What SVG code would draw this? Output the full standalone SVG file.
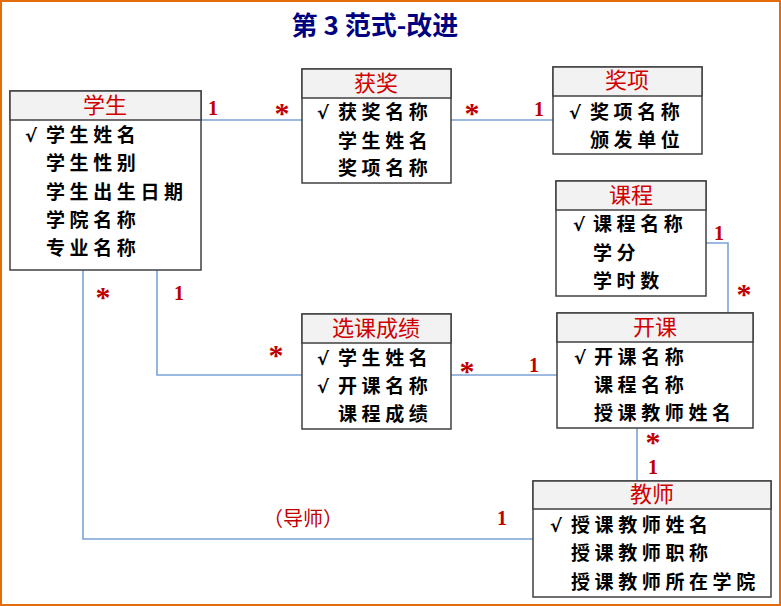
<svg xmlns="http://www.w3.org/2000/svg" width="781" height="606" viewBox="0 0 781 606">
<style>
.frame{fill:#fff;stroke:#E46C0A;stroke-width:2}
.box{fill:#fff;stroke:#404040;stroke-width:1.5}
.hdr{fill:#F2F2F2;stroke:#404040;stroke-width:1.5}
.ht{font-family:"Noto Sans CJK SC",sans-serif;font-size:22px;fill:#D00000;text-anchor:middle}
.at{font-family:"Noto Sans CJK SC",sans-serif;font-size:19px;font-weight:bold;fill:#000;letter-spacing:4.6px}
.ck{font-family:"DejaVu Sans",sans-serif;font-size:18px;font-weight:bold;fill:#000}
.con{fill:none;stroke:#7BA3D6;stroke-width:1.6}
.m{font-family:"Liberation Serif",serif;font-size:20px;font-weight:bold;fill:#C00000;text-anchor:middle}
.s{font-family:"Liberation Serif",serif;font-size:30px;font-weight:bold;fill:#C00000;text-anchor:middle}
.title{font-family:"Noto Sans CJK SC",sans-serif;font-size:26px;font-weight:bold;fill:#000080;text-anchor:middle}
</style>
<rect class="frame" x="1" y="1" width="779" height="604"/>
<text class="title" x="375" y="35">第 3 范式-改进</text>

<g id="connectors">
<path class="con" d="M201,120 H302"/>
<path class="con" d="M451,120 H553"/>
<path class="con" d="M706,243 H728 V313"/>
<path class="con" d="M451,375 H557"/>
<path class="con" d="M157,270 V375 H302"/>
<path class="con" d="M83,270 V539 H533"/>
<path class="con" d="M637,428 V481"/>
<text class="m" x="213" y="115">1</text>
<text class="s" x="282" y="123">*</text>
<text class="s" x="472" y="123">*</text>
<text class="m" x="539" y="116">1</text>
<text class="m" x="719" y="240">1</text>
<text class="s" x="744" y="304">*</text>
<text class="s" x="467" y="381">*</text>
<text class="m" x="534" y="372">1</text>
<text class="s" x="103" y="307">*</text>
<text class="m" x="179" y="300">1</text>
<text class="s" x="276" y="365">*</text>
<text class="s" x="653" y="452">*</text>
<text class="m" x="653" y="474">1</text>
<text x="303" y="526" style="font-family:'Noto Sans CJK SC',sans-serif;font-size:20px;fill:#C00000;text-anchor:middle">（导师）</text>
<text class="m" x="502" y="525">1</text>
</g>

<g id="student">
<rect class="box" x="10" y="91" width="191" height="179"/>
<rect class="hdr" x="10" y="91" width="191" height="29"/>
<text class="ht" x="105" y="113">学生</text>
<text class="ck" x="25" y="142">√</text>
<text class="at" x="46" y="142">学生姓名</text>
<text class="at" x="46" y="170">学生性别</text>
<text class="at" x="46" y="199">学生出生日期</text>
<text class="at" x="46" y="227">学院名称</text>
<text class="at" x="46" y="255">专业名称</text>
</g>

<g id="award">
<rect class="box" x="302" y="69" width="149" height="114"/>
<rect class="hdr" x="302" y="69" width="149" height="29"/>
<text class="ht" x="376" y="91">获奖</text>
<text class="ck" x="317" y="119">√</text>
<text class="at" x="338" y="119">获奖名称</text>
<text class="at" x="338" y="148">学生姓名</text>
<text class="at" x="338" y="175">奖项名称</text>
</g>

<g id="prize">
<rect class="box" x="553" y="67" width="149" height="87"/>
<rect class="hdr" x="553" y="67" width="149" height="29"/>
<text class="ht" x="627" y="88">奖项</text>
<text class="ck" x="569" y="119">√</text>
<text class="at" x="590" y="119">奖项名称</text>
<text class="at" x="590" y="147">颁发单位</text>
</g>

<g id="course">
<rect class="box" x="556" y="181" width="150" height="115"/>
<rect class="hdr" x="556" y="181" width="150" height="29"/>
<text class="ht" x="631" y="203">课程</text>
<text class="ck" x="573" y="231">√</text>
<text class="at" x="593" y="231">课程名称</text>
<text class="at" x="593" y="260">学分</text>
<text class="at" x="593" y="288">学时数</text>
</g>

<g id="grade">
<rect class="box" x="302" y="314" width="149" height="115"/>
<rect class="hdr" x="302" y="314" width="149" height="29"/>
<text class="ht" x="376" y="336">选课成绩</text>
<text class="ck" x="317" y="365">√</text>
<text class="at" x="338" y="365">学生姓名</text>
<text class="ck" x="317" y="393">√</text>
<text class="at" x="338" y="393">开课名称</text>
<text class="at" x="338" y="421">课程成绩</text>
</g>

<g id="offering">
<rect class="box" x="557" y="313" width="196" height="115"/>
<rect class="hdr" x="557" y="313" width="196" height="29"/>
<text class="ht" x="655" y="335">开课</text>
<text class="ck" x="574" y="364">√</text>
<text class="at" x="594" y="364">开课名称</text>
<text class="at" x="594" y="392">课程名称</text>
<text class="at" x="594" y="420">授课教师姓名</text>
</g>

<g id="teacher">
<rect class="box" x="533" y="481" width="238" height="116"/>
<rect class="hdr" x="533" y="481" width="238" height="28"/>
<text class="ht" x="652" y="502">教师</text>
<text class="ck" x="550" y="532">√</text>
<text class="at" x="571" y="532">授课教师姓名</text>
<text class="at" x="571" y="560">授课教师职称</text>
<text class="at" x="571" y="589">授课教师所在学院</text>
</g>
</svg>
